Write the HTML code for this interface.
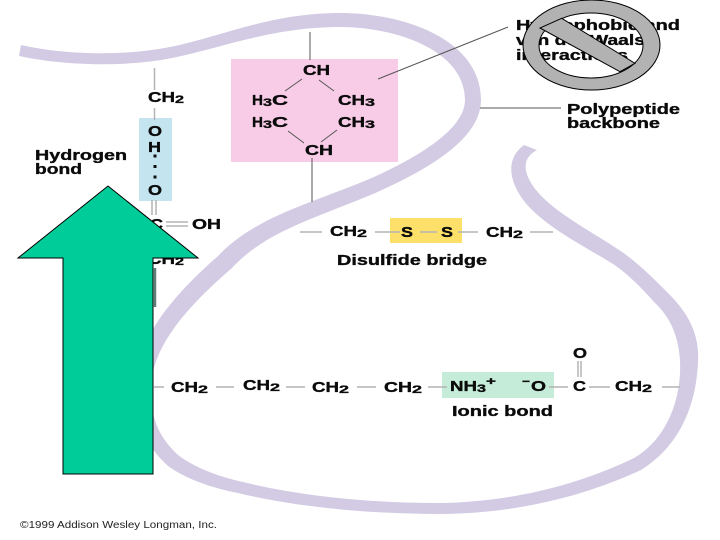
<!DOCTYPE html>
<html>
<head>
<meta charset="utf-8">
<style>
html,body{margin:0;padding:0;background:#fff;width:720px;height:540px;overflow:hidden}
svg{display:block}
text{font-family:"Liberation Sans",sans-serif;font-weight:bold;font-size:15px;fill:#0a0a0a;stroke:#0a0a0a;stroke-width:.35px}
.s{font-size:11px}
.c{font-size:10px;font-weight:normal;fill:#222;stroke:none}
</style>
</head>
<body>
<svg width="720" height="540" viewBox="0 0 720 540" xmlns="http://www.w3.org/2000/svg">
<path fill="#d2cbe3" d="M21 45 C60 54 120 57 170 47 C220 37 270 13 340 13 C405 13 481 40 481 100 C481 140 425 171 373 194 C313 219 265 232 232 268 C182 311 151 350 151 390 C151 418 158 436 178 455 C195 468 220 477 243 482 C283 492 350 503 440 503 C500 502 568 490 634 458 C664 441 682 403 680 360 C678 332 668 315 654 302 C640 286 626 273 616 266 C592 250 545 228 524 201 C508 180 506 158 524 145 L537 150 C522 158 522 172 536 190 C555 214 600 236 625 254 C640 265 655 280 668 293 C684 309 700 330 698 362 C696 408 678 447 641 470 C572 502 500 514 440 514 C350 514 278 503 238 493 C212 488 186 479 168 466 C145 445 135 420 135 390 C135 342 168 300 218 256 C254 218 306 205 367 180 C415 159 465 130 465 100 C465 50 395 27 340 27 C272 27 222 48 172 58 C122 68 60 65 19 56 Z"/>

<rect x="231" y="59" width="167" height="103" fill="#f8cce6"/>
<rect x="139" y="118" width="33" height="83" fill="#c4e4f0"/>
<rect x="390" y="218" width="72" height="25" fill="#fde06a"/>
<rect x="442" y="372" width="112" height="26" fill="#c5ecd8"/>

<g stroke="#b4b4b4" stroke-width="1.5" fill="none">
<path d="M154.500 68V90M154.500 108V120M152 200V215M156 200V215M166 222H188M166 226H188"/>
<path d="M300 232H322M375 232H400M420 232H437M458 232H478M530 232H553"/>
<path d="M154 387H164M216 387H234M286 387H305M357 387H376M428 387H447M549 387H568M589 387H610M662 387H680M578 361V377M581 361V377"/>
</g>
<path d="M155 268V307" stroke="#5f7d7d" stroke-width="2.500"/>
<g stroke="#555" stroke-width="1" fill="none">
<path d="M310 32V60M312 158V202M302 79L285 91M319 80L334 91M288 131L304 143M337 130L321 142"/>
<path d="M378 79L508 27M480 108H561"/>
</g>
<g fill="#111"><rect x="153.500" y="154.500" width="3" height="3"/><rect x="153.500" y="165" width="3" height="3"/><rect x="153.500" y="175.500" width="3" height="3"/></g>

<text x="516" y="30" textLength="164" lengthAdjust="spacingAndGlyphs">Hydrophobic and</text>
<text x="516" y="45" textLength="129" lengthAdjust="spacingAndGlyphs">van der Waals</text>
<text x="516" y="60" textLength="112" lengthAdjust="spacingAndGlyphs">interactions</text>
<text x="567" y="114" textLength="113" lengthAdjust="spacingAndGlyphs">Polypeptide</text>
<text x="567" y="128" textLength="93" lengthAdjust="spacingAndGlyphs">backbone</text>
<text x="35" y="160" textLength="92" lengthAdjust="spacingAndGlyphs">Hydrogen</text>
<text x="35" y="174" textLength="47" lengthAdjust="spacingAndGlyphs">bond</text>

<text x="148" y="102" textLength="27" lengthAdjust="spacingAndGlyphs">CH</text><text class="s" x="175" y="103" textLength="9" lengthAdjust="spacingAndGlyphs">2</text>
<text x="148" y="136" textLength="14" lengthAdjust="spacingAndGlyphs">O</text>
<text x="148" y="152" textLength="13" lengthAdjust="spacingAndGlyphs">H</text>
<text x="148" y="195" textLength="14" lengthAdjust="spacingAndGlyphs">O</text>
<text x="150" y="229" textLength="13" lengthAdjust="spacingAndGlyphs">C</text>
<text x="192" y="229" textLength="29" lengthAdjust="spacingAndGlyphs">OH</text>
<text x="148" y="264" textLength="27" lengthAdjust="spacingAndGlyphs">CH</text><text class="s" x="175" y="265" textLength="9" lengthAdjust="spacingAndGlyphs">2</text>

<text x="303" y="75" textLength="27" lengthAdjust="spacingAndGlyphs">CH</text>
<text x="252" y="105" textLength="11" lengthAdjust="spacingAndGlyphs">H</text><text class="s" x="263" y="106" textLength="9" lengthAdjust="spacingAndGlyphs">3</text><text x="272" y="105" textLength="16" lengthAdjust="spacingAndGlyphs">C</text>
<text x="338" y="105" textLength="27" lengthAdjust="spacingAndGlyphs">CH</text><text class="s" x="365" y="106" textLength="10" lengthAdjust="spacingAndGlyphs">3</text>
<text x="252" y="127" textLength="11" lengthAdjust="spacingAndGlyphs">H</text><text class="s" x="263" y="128" textLength="9" lengthAdjust="spacingAndGlyphs">3</text><text x="272" y="127" textLength="16" lengthAdjust="spacingAndGlyphs">C</text>
<text x="338" y="127" textLength="27" lengthAdjust="spacingAndGlyphs">CH</text><text class="s" x="365" y="128" textLength="10" lengthAdjust="spacingAndGlyphs">3</text>
<text x="305" y="155" textLength="28" lengthAdjust="spacingAndGlyphs">CH</text>

<text x="330" y="236" textLength="27" lengthAdjust="spacingAndGlyphs">CH</text><text class="s" x="357" y="237" textLength="10" lengthAdjust="spacingAndGlyphs">2</text>
<text x="401" y="237" textLength="12" lengthAdjust="spacingAndGlyphs">S</text>
<text x="441" y="237" textLength="12" lengthAdjust="spacingAndGlyphs">S</text>
<text x="486" y="237" textLength="27" lengthAdjust="spacingAndGlyphs">CH</text><text class="s" x="513" y="238" textLength="10" lengthAdjust="spacingAndGlyphs">2</text>
<text x="337" y="265" textLength="150" lengthAdjust="spacingAndGlyphs">Disulfide bridge</text>

<text x="171" y="392" textLength="27" lengthAdjust="spacingAndGlyphs">CH</text><text class="s" x="198" y="393" textLength="10" lengthAdjust="spacingAndGlyphs">2</text>
<text x="243" y="390" textLength="27" lengthAdjust="spacingAndGlyphs">CH</text><text class="s" x="270" y="391" textLength="10" lengthAdjust="spacingAndGlyphs">2</text>
<text x="312" y="392" textLength="27" lengthAdjust="spacingAndGlyphs">CH</text><text class="s" x="339" y="393" textLength="10" lengthAdjust="spacingAndGlyphs">2</text>
<text x="384" y="392" textLength="28" lengthAdjust="spacingAndGlyphs">CH</text><text class="s" x="412" y="393" textLength="10" lengthAdjust="spacingAndGlyphs">2</text>
<text x="450" y="391" textLength="27" lengthAdjust="spacingAndGlyphs">NH</text><text class="s" x="477" y="392" textLength="9" lengthAdjust="spacingAndGlyphs">3</text><text class="s" x="486" y="385" textLength="10" lengthAdjust="spacingAndGlyphs">+</text>
<text class="s" x="522" y="385" textLength="8" lengthAdjust="spacingAndGlyphs">−</text><text x="531" y="391" textLength="15" lengthAdjust="spacingAndGlyphs">O</text>
<text x="573" y="391" textLength="13" lengthAdjust="spacingAndGlyphs">C</text>
<text x="615" y="391" textLength="27" lengthAdjust="spacingAndGlyphs">CH</text><text class="s" x="642" y="392" textLength="10" lengthAdjust="spacingAndGlyphs">2</text>
<text x="573" y="358" textLength="14" lengthAdjust="spacingAndGlyphs">O</text>
<text x="452" y="416" textLength="101" lengthAdjust="spacingAndGlyphs">Ionic bond</text>

<text class="c" x="20" y="528" textLength="197" lengthAdjust="spacingAndGlyphs">©1999 Addison Wesley Longman, Inc.</text>

<path d="M108 186L198 258H153V474H63V258H18Z" fill="#00cc99" stroke="#000" stroke-width="1"/>

<path fill-rule="evenodd" d="M523 45a68.500 45 0 1 0 137 0a68.500 45 0 1 0 -137 0ZM539 45.500a52 32.500 0 1 0 104 0a52 32.500 0 1 0 -104 0Z" fill="#b2b2b2" stroke="#000" stroke-width="1"/>
<path d="M561.700 18.300L635 63.300L620 71.700L540 28Z" fill="#b2b2b2" stroke="#000" stroke-width="1"/>
</svg>
</body>
</html>
